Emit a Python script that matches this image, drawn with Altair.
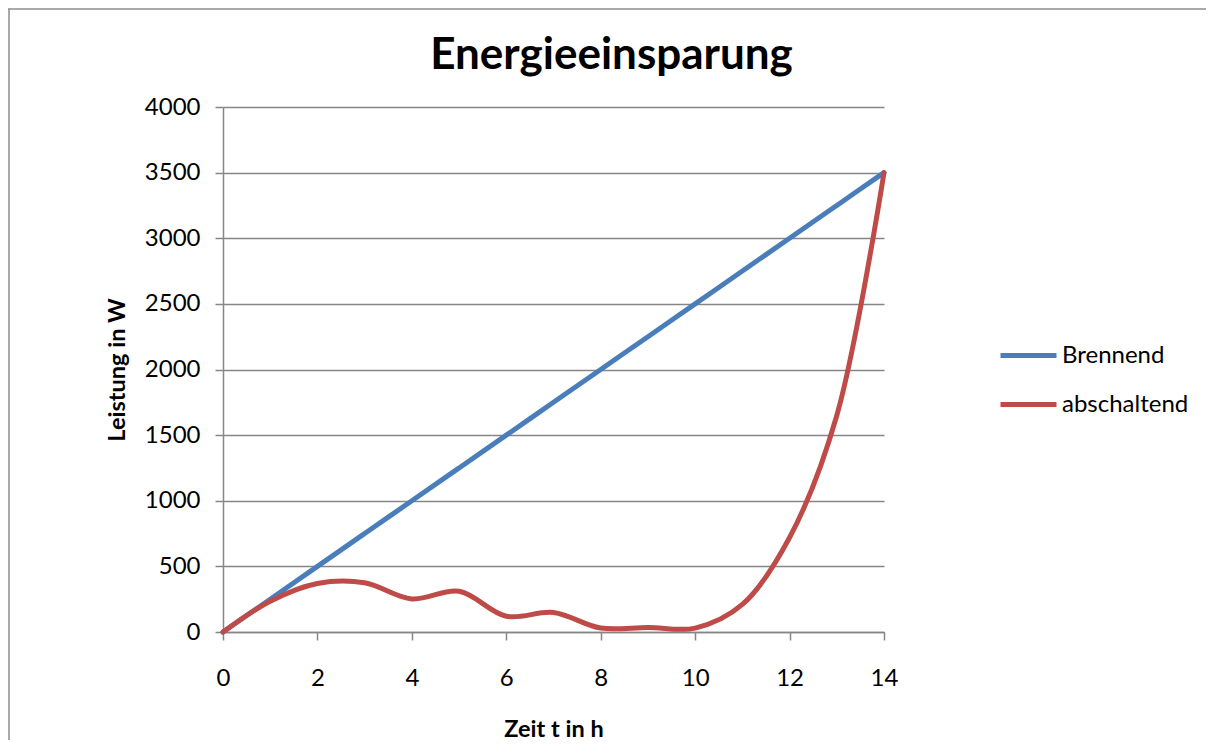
import altair as alt
import pandas as pd

zeit = [0, 1, 2, 3, 4, 5, 6, 7, 8, 9, 10, 11, 12, 13, 14]
brennend = [0, 250, 500, 750, 1000, 1250, 1500, 1750, 2000, 2250, 2500, 2750, 3000, 3250, 3500]
abschaltend = [0, 235, 370, 375, 252, 310, 120, 148, 30, 35, 30, 210, 720, 1650, 3500]
series = ["Brennend", "abschaltend"]
colors = ["#4a7ebb", "#be4b48"]
x_ticks = [0, 2, 4, 6, 8, 10, 12, 14]
y_ticks = [0, 500, 1000, 1500, 2000, 2500, 3000, 3500, 4000]

rows = []
for s, vals in zip(series, [brennend, abschaltend]):
    for t, v in zip(zeit, vals):
        rows.append({"Zeit": t, "Leistung": v, "Serie": s})
df = pd.DataFrame(rows)

FONT = "Lato"
GRID = "#868686"

lines = alt.Chart(df).mark_line(strokeWidth=5, interpolate="catmull-rom", strokeCap="round").encode(
    x=alt.X("Zeit:Q",
            scale=alt.Scale(domain=[0, 14], nice=False),
            axis=alt.Axis(values=x_ticks, format="d", title="Zeit t in h", grid=False,
                          labelFlush=False, tickSize=8, labelPadding=26,
                          titleY=85, titleBaseline="top")),
    y=alt.Y("Leistung:Q",
            scale=alt.Scale(domain=[0, 4000], nice=False),
            axis=alt.Axis(values=y_ticks, format="d", title="Leistung in W", grid=True,
                          labelFlush=False, tickSize=8, labelPadding=15, titleX=-94)),
    color=alt.Color("Serie:N",
                    scale=alt.Scale(domain=series, range=colors),
                    legend=alt.Legend(title=None, orient="none", legendX=775, legendY=218,
                                      symbolType="stroke", symbolSize=3136,
                                      symbolStrokeWidth=5, labelFontSize=24,
                                      labelFont=FONT, labelOffset=3, rowPadding=6)),
    order=alt.Order("Zeit:Q"),
)

frame_df = pd.DataFrame({"a": [0]})
frame_left = alt.Chart(frame_df).mark_rule(color="#8c8c8c", strokeWidth=1.5).encode(
    x=alt.value(-214), y=alt.value(-98), y2=alt.value(700))
frame_top = alt.Chart(frame_df).mark_rule(color="#8c8c8c", strokeWidth=1.5).encode(
    x=alt.value(-215), x2=alt.value(1000), y=alt.value(-98))

chart = alt.layer(frame_left, frame_top, lines).properties(
    width=661, height=525,
    background="white",
    autosize=alt.AutoSizeParams(type="none"),
    padding={"left": 215, "top": 99, "right": 322, "bottom": 108},
    title=alt.TitleParams("Energieeinsparung", font=FONT, fontSize=44, fontWeight="bold",
                          color="black", anchor="middle", dx=58, offset=0,
                          baseline="alphabetic", dy=105),
).configure_view(stroke=None).configure_axis(
    domainColor=GRID, tickColor=GRID, gridColor=GRID, domainWidth=1.5, tickWidth=1.5,
    gridWidth=1.5, labelFont=FONT, labelFontSize=24, labelColor="black",
    titleFont=FONT, titleFontSize=23.5, titleFontWeight="bold", titleColor="black",
)

chart.save("out.html", embed_options={"renderer": "svg", "actions": False})
